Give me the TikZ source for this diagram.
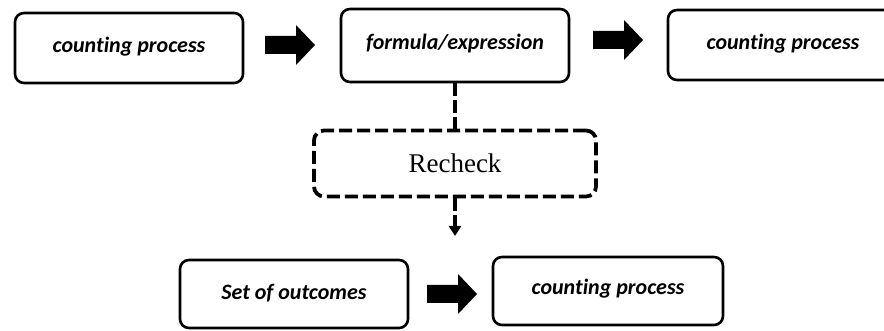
\documentclass[tikz,border=0pt]{standalone}
\usepackage{fontspec}
\setmainfont{Carlito}[RawFeature={-liga;-clig;-calt}]
\newfontfamily\rmserif{Liberation Serif}
\usetikzlibrary{arrows.meta,calc}
\tikzset{
  stepbox/.style={draw=black, line width=2.6pt, rounded corners=9pt,
    minimum width=228pt, minimum height=70pt, inner sep=0pt,
    font=\fontsize{22}{25}\selectfont\bfseries\itshape},
  checkbox/.style={draw=black, line width=3.8pt, rounded corners=10pt,
    dash pattern=on 13pt off 5pt, minimum width=282pt, minimum height=66pt,
    inner sep=0pt, font=\rmserif\fontsize{27}{30}\selectfont},
  dashlink/.style={draw=black, line width=3.2pt, dash pattern=on 13pt off 4pt},
  blockarrow/.pic={\fill[black] (0,-9) -- (31,-9) -- (31,-20) -- (50,0)
    -- (31,20) -- (31,9) -- (0,9) -- cycle;}
}
\begin{document}
\begin{tikzpicture}[x=1pt,y=-1pt]
  \useasboundingbox (0,0) rectangle (884,331);
  \clip (0,0) rectangle (884,331);

  % top row
  \node[stepbox] (b1) at (129,48) {\raisebox{6pt}{counting process}};
  \node[stepbox, minimum height=73pt] (b2) at (455,45.5) {\raisebox{8pt}{formula/expression}};
  \node[stepbox, minimum width=230pt] (b3) at (783,45) {\raisebox{7pt}{counting process}};

  % recheck step
  \node[checkbox] (rc) at (455,163.5) {Recheck};
  \coordinate (down) at (455,236);

  % bottom row
  \node[stepbox, minimum height=68pt] (b4) at (294,294) {\raisebox{5pt}{Set of outcomes}};
  \node[stepbox, minimum width=230pt, minimum height=68pt] (b5) at (608,291) {\raisebox{9pt}{counting process}};

  % block arrows between steps
  \coordinate (a1) at (265,45);
  \coordinate (a2) at (593,40);
  \coordinate (a3) at (427,294);
  \pic at (a1) {blockarrow};
  \pic at (a2) {blockarrow};
  \pic at (a3) {blockarrow};

  % dashed links through the recheck step
  \draw[dashlink] (b2.south) -- (rc.north);
  \draw[dashlink, -{Triangle[width=12pt,length=10pt]}] (rc.south) -- (down);
\end{tikzpicture}
\end{document}
